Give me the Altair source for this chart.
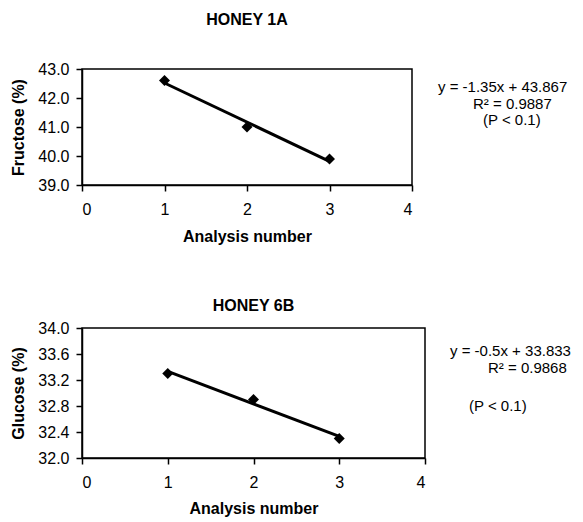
import altair as alt
import pandas as pd

analysis = [1, 2, 3]
fructose_1a = [42.6, 41.0, 39.9]
glucose_6b = [33.3, 32.9, 32.3]
x_ticks = [0, 1, 2, 3, 4]
fructose_ticks = [39.0, 40.0, 41.0, 42.0, 43.0]
glucose_ticks = [32.0, 32.4, 32.8, 33.2, 33.6, 34.0]
panel_titles = ["HONEY 1A", "HONEY 6B"]
y_titles = ["Fructose (%)", "Glucose (%)"]
x_title = "Analysis number"
notes_1a = ["y = -1.35x + 43.867", "R² = 0.9887", "(P < 0.1)"]
notes_6b = ["y = -0.5x + 33.833", "R² = 0.9868", "(P < 0.1)"]

FONT = "Liberation Sans"


def panel(values, yticks, title, ytitle, notes, w, h, title_offset, note_pos, xtitle_pad):
    df = pd.DataFrame({"x": analysis, "y": values})
    base = alt.Chart(df)
    xs = alt.X("x:Q", scale=alt.Scale(domain=[0, 4], nice=False),
               axis=alt.Axis(values=x_ticks, format="d", title=x_title,
                             titlePadding=xtitle_pad))
    ys = alt.Y("y:Q", scale=alt.Scale(domain=[yticks[0], yticks[-1]], nice=False, zero=False),
               axis=alt.Axis(values=yticks, format=".1f", title=ytitle))
    line = base.transform_regression("x", "y", extent=[1, 3]).mark_line(
        color="black", strokeWidth=3).encode(x=xs, y=ys)
    pts = base.mark_point(shape="diamond", filled=True, color="black", size=120,
                          opacity=1).encode(x=xs, y=ys)
    layers = [line, pts]
    for t, (px, py) in zip(notes, note_pos):
        layers.append(
            alt.Chart(pd.DataFrame({"note": [t]})).mark_text(
                align="left", baseline="middle", fontSize=15, font=FONT, color="black"
            ).encode(x=alt.value(px), y=alt.value(py), text="note:N")
        )
    return alt.layer(*layers).properties(
        width=w, height=h,
        title=alt.TitleParams(title, fontSize=16, font=FONT, fontWeight="bold",
                              anchor="middle", offset=title_offset, color="black"),
    )


top = panel(fructose_1a, fructose_ticks, panel_titles[0], y_titles[0], notes_1a,
            330, 116, 33.5, [(356, 18), (391, 35), (401, 51)], 11.5)
bottom = panel(glucose_6b, glucose_ticks, panel_titles[1], y_titles[1], notes_6b,
               343, 130, 6, [(368, 23), (406, 40), (387, 78)], 10)

chart = alt.vconcat(top, bottom, spacing=51).properties(
    padding={"left": 2, "top": 2, "right": 0, "bottom": 0}
).configure_view(
    stroke="black", strokeWidth=1.5
).configure_axis(
    grid=False, labelFont=FONT, titleFont=FONT, labelFontSize=16, titleFontSize=16,
    titleFontWeight="bold", labelColor="black", titleColor="black",
    domainColor="black", domainWidth=1.5, tickColor="black", tickWidth=1.5, tickSize=6,
).configure_axisX(
    labelPadding=10
).configure_axisY(
    labelPadding=7, titlePadding=11
)

chart.save("out.html", embed_options={"renderer": "svg", "actions": False})
